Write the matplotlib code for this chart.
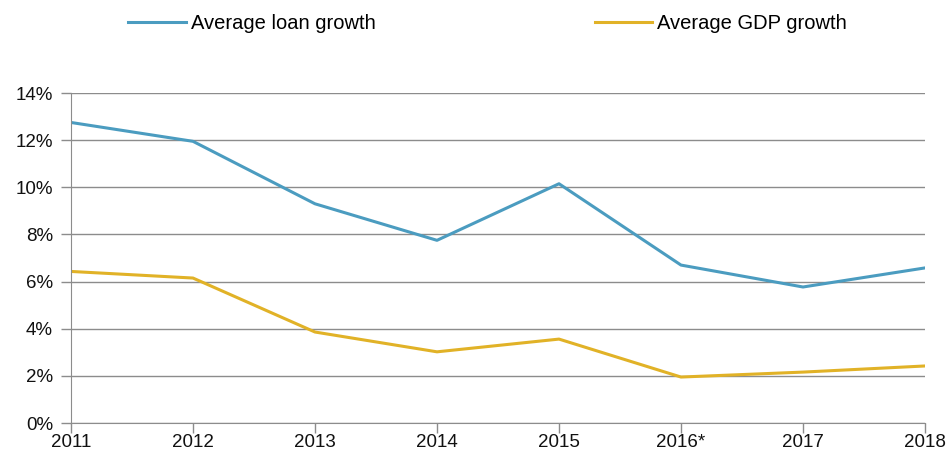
import matplotlib
matplotlib.use("Agg")
import matplotlib.pyplot as plt
from matplotlib.ticker import FuncFormatter

plt.rcParams['font.family'] = ['Liberation Sans', 'DejaVu Sans']

years = ["2011", "2012", "2013", "2014", "2015", "2016*", "2017", "2018"]
loan_growth = [12.75, 11.95, 9.3, 7.75, 10.15, 6.7, 5.77, 6.58]
gdp_growth = [6.43, 6.15, 3.86, 3.02, 3.56, 1.95, 2.16, 2.42]

blue = "#4b9cc0"
gold = "#e1b227"
grid_col = "#8c8c8c"

fig = plt.figure(figsize=(9.5, 4.53), dpi=100)
ax = fig.add_axes([0.0747, 0.0662, 0.899, 0.7285])

x = list(range(len(years)))
l1, = ax.plot(x, loan_growth, color=blue, lw=2.2, label="Average loan growth")
l2, = ax.plot(x, gdp_growth, color=gold, lw=2.2, label="Average GDP growth")

ax.set_xlim(0, len(years) - 1)
ax.set_ylim(0, 14)
ax.set_yticks(range(0, 15, 2))
ax.yaxis.set_major_formatter(FuncFormatter(lambda v, p: f"{v:.0f}%"))
ax.set_xticks(x)
ax.set_xticklabels(years)

ax.grid(axis="y", color=grid_col, lw=1)
ax.set_axisbelow(True)
for s in ["top", "right"]:
    ax.spines[s].set_visible(False)
ax.spines["left"].set_color(grid_col)
ax.spines["bottom"].set_color(grid_col)
ax.tick_params(axis="both", colors=grid_col, labelcolor="#111111", labelsize=13.5, length=7, width=1)
ax.tick_params(axis="x", pad=1)
ax.tick_params(axis="y", pad=6)

fig.legend(handles=[l1, l2], loc="upper left", bbox_to_anchor=(0.116, 1.01), ncol=2,
           frameon=False, fontsize=14.5, handlelength=2.85, handletextpad=0.25,
           columnspacing=10.9)

fig.savefig("out.png", dpi=100)
